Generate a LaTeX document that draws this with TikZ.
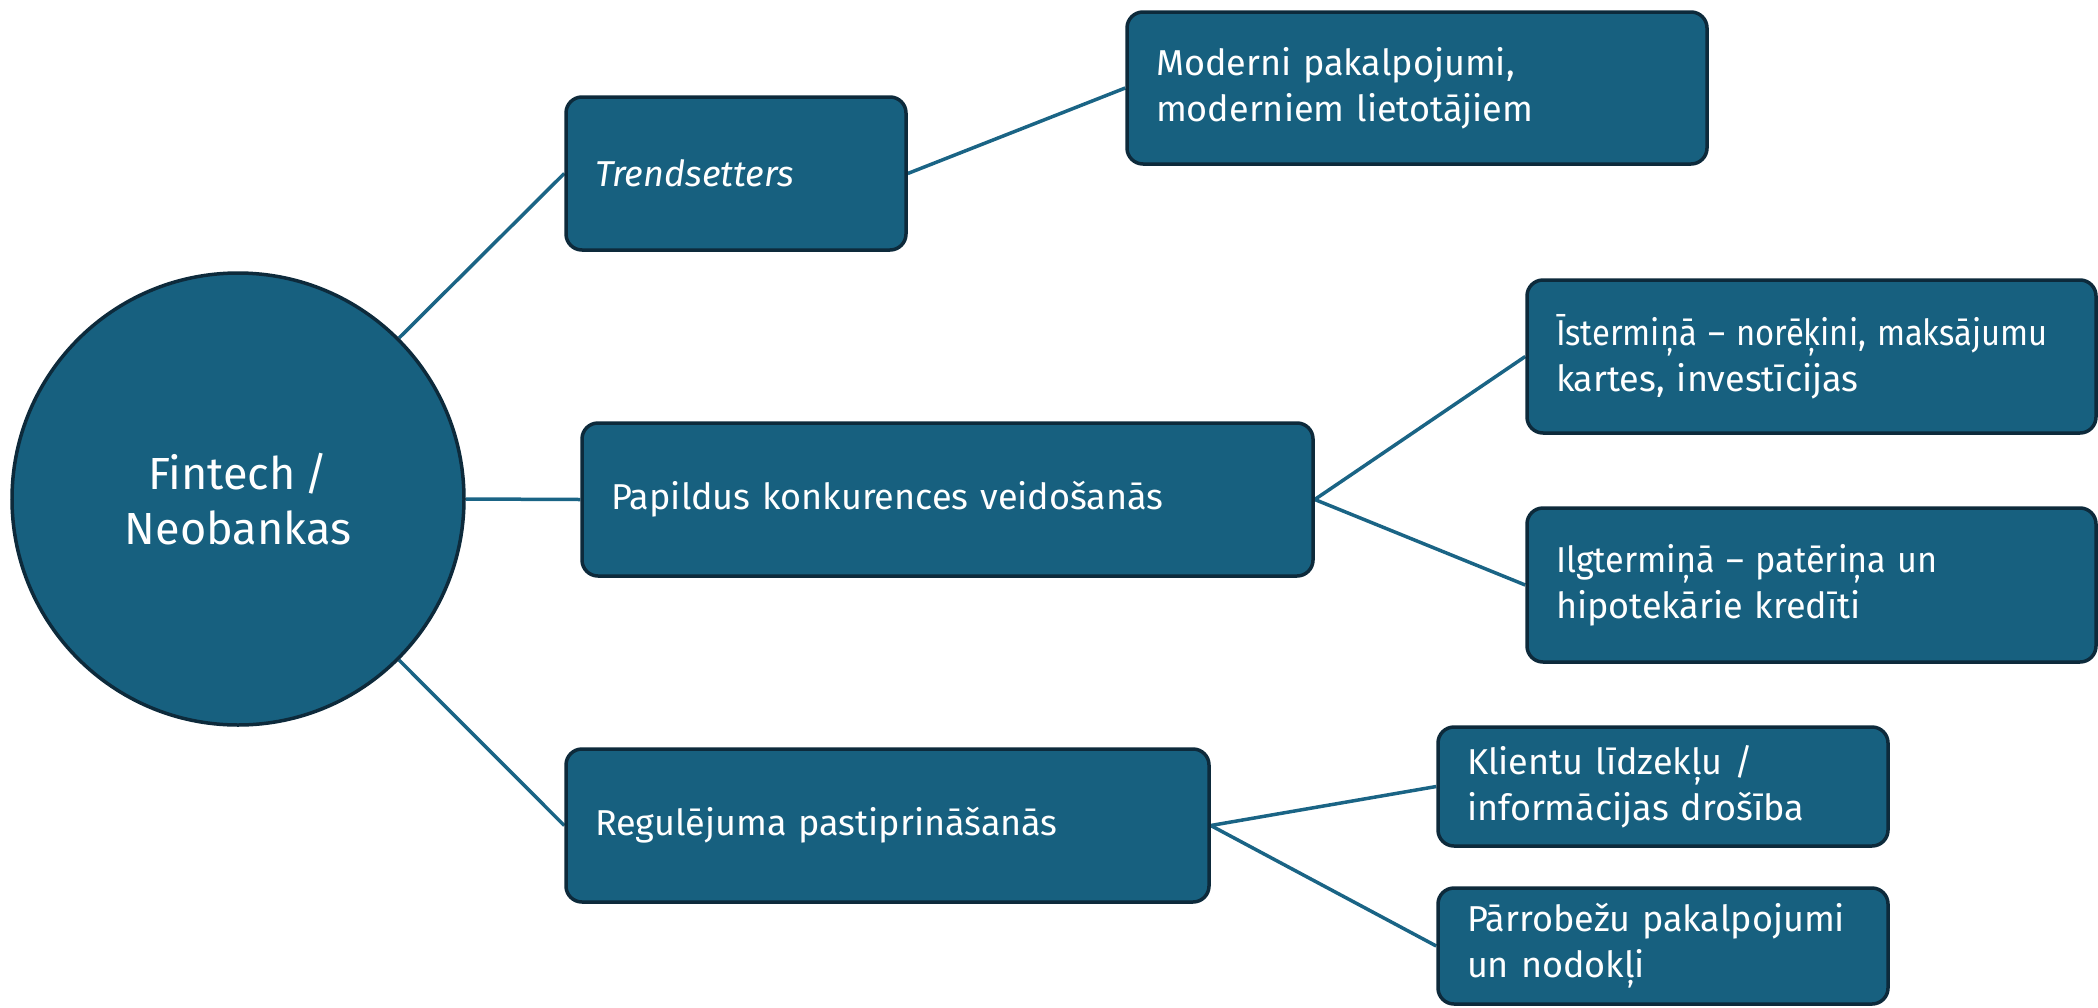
\documentclass[tikz,border=0pt]{standalone}
\usepackage{fontspec}
\usepackage{graphicx}
\setmainfont[WordSpace=0.75]{Fira Sans}
\usetikzlibrary{backgrounds}
\definecolor{boxfill}{HTML}{17607F}
\definecolor{boxline}{HTML}{0D2A3B}
\definecolor{linkc}{HTML}{1A6485}
\hyphenpenalty=10000
\exhyphenpenalty=10000
\hfuzz=200pt
% a line set slightly narrower, for the longer lines
\newcommand{\narrowline}[2]{\scalebox{#1}[1]{#2}}
\begin{document}
\begin{tikzpicture}[x=1pt,y=-1pt,
  hub/.style={circle,draw=boxline,fill=boxfill,line width=3.5pt,text=white,
    minimum size=452pt,inner sep=0pt,align=center,
    font=\fontsize{45}{55}\selectfont},
  card/.style={rectangle,rounded corners=16pt,draw=boxline,fill=boxfill,
    line width=3.5pt,text=white,align=left,inner xsep=29pt,inner ysep=0pt,
    font=\fontsize{36}{46}\selectfont},
  link/.style={draw=linkc,line width=3.5pt}]
\useasboundingbox (0,0) rectangle (2098,1007);
% central hub
\node[hub] (c) at (238,499) {Fintech /\\Neobankas};
% first level
\node[card,minimum width=340pt,minimum height=153pt,text width=282pt] (tr) at (736,173.5) {\itshape Trendsetters};
\node[card,minimum width=731pt,minimum height=153pt,text width=673pt] (pa) at (947.5,499.5) {Papildus konkurences veidošanās};
\node[card,minimum width=643pt,minimum height=153pt,text width=585pt] (re) at (887.5,825.5) {Regulējuma pastiprināšanās};
% second level
\node[card,minimum width=580pt,minimum height=152pt,text width=522pt] (mo) at (1417,88) {Moderni pakalpojumi,\\moderniem lietotājiem};
\node[card,minimum width=569pt,minimum height=153pt,text width=511pt] (is) at (1811.5,356.5) {\narrowline{0.91}{Īstermiņā – norēķini, maksājumu}\\kartes, investīcijas};
\node[card,minimum width=569pt,minimum height=154pt,text width=511pt] (il) at (1811.5,585) {\narrowline{0.95}{Ilgtermiņā – patēriņa un}\\hipotekārie kredīti};
\node[card,minimum width=450pt,minimum height=119pt,text width=392pt] (kl) at (1663,786.5) {Klientu līdzekļu /\\informācijas drošība};
\node[card,minimum width=450pt,minimum height=116pt,text width=392pt] (pr) at (1663,946) {Pārrobežu pakalpojumi\\un nodokļi};
\begin{scope}[on background layer]
\draw[link] (c.45) -- (tr.west);
\draw[link] (c.east) -- (pa.west);
\draw[link] (c.-45) -- (re.west);
\draw[link] (tr.east) -- (mo.west);
\draw[link] (pa.east) -- (is.west);
\draw[link] (pa.east) -- (il.west);
\draw[link] (re.east) -- (kl.west);
\draw[link] (re.east) -- (pr.west);
\end{scope}
\end{tikzpicture}
\end{document}
